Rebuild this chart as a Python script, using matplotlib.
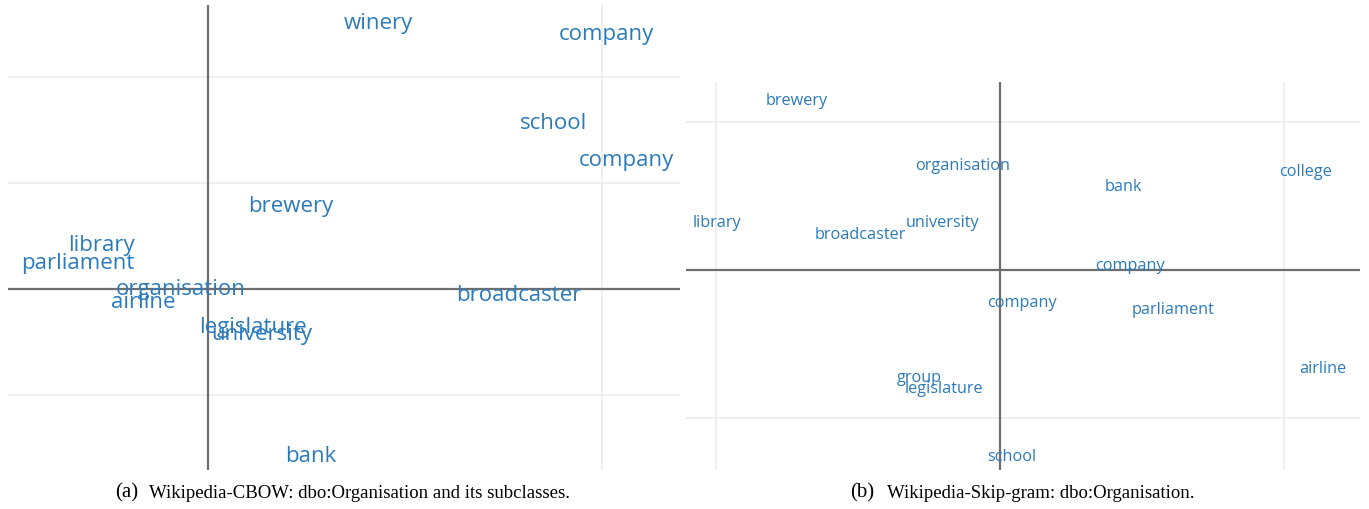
import matplotlib.pyplot as plt

# (a) Wikipedia-CBOW
cbow_words = ['winery', 'company', 'school', 'company', 'brewery', 'library',
              'parliament', 'organisation', 'airline', 'broadcaster',
              'legislature', 'university', 'bank']
cbow_x = [0.431, 1.010, 0.876, 1.061, 0.211, -0.272, -0.330, -0.069, -0.165,
          0.789, 0.114, 0.137, 0.261]
cbow_y = [2.51, 2.406, 1.566, 1.217, 0.783, 0.415, 0.245, -0.009, -0.132,
          -0.057, -0.368, -0.425, -1.585]

# (b) Wikipedia-Skip-gram
sg_words = ['brewery', 'organisation', 'bank', 'college', 'library',
            'broadcaster', 'university', 'company', 'company', 'parliament',
            'airline', 'group', 'legislature', 'school']
sg_x = [-0.715, -0.130, 0.433, 1.077, -0.996, -0.493, -0.201, 0.458, 0.077,
        0.609, 1.137, -0.285, -0.197, 0.042]
sg_y = [1.142, 0.703, 0.561, 0.662, 0.318, 0.236, 0.318, 0.027, -0.223,
        -0.270, -0.669, -0.730, -0.804, -1.264]

blue = '#2b7bba'
W, H = 1369, 509

fig = plt.figure(figsize=(W / 100, H / 100), dpi=100)


def panel(rect, words, xs, ys, xlim, ylim, xgrid, ygrid, fs):
    ax = fig.add_axes(rect)
    ax.set_xlim(*xlim)
    ax.set_ylim(*ylim)
    ax.axis('off')
    for g in ygrid:
        ax.axhline(g, color='#ececec', lw=1.2, zorder=0)
    for g in xgrid:
        ax.axvline(g, color='#ececec', lw=1.2, zorder=0)
    ax.axhline(0, color='#6e6e6e', lw=1.6, zorder=1)
    ax.axvline(0, color='#6e6e6e', lw=1.6, zorder=1)
    for w, x, y in zip(words, xs, ys):
        ax.text(x, y, w, color=blue, fontsize=fs, family='Open Sans',
                ha='center', va='center', zorder=2)
    return ax


panel([8 / W, 39 / H, 672 / W, 465 / H], cbow_words, cbow_x, cbow_y,
      (-0.508, 1.198), (-1.708, 2.68), [1], [2, 1, -1], 16)
panel([686 / W, 39 / H, 674 / W, 388 / H], sg_words, sg_x, sg_y,
      (-1.106, 1.268), (-1.351, 1.27), [-1, 1], [1, -1], 11.7)

cap = dict(family='Liberation Serif', va='center')
fig.text(115 / W, 1 - 493 / H, '(a)', fontsize=15, **cap)
fig.text(149 / W, 1 - 494 / H, 'Wikipedia-CBOW: dbo:Organisation and its subclasses.',
         fontsize=13.5, **cap)
fig.text(850 / W, 1 - 493 / H, '(b)', fontsize=15, **cap)
fig.text(887 / W, 1 - 494 / H, 'Wikipedia-Skip-gram: dbo:Organisation.',
         fontsize=13.5, **cap)

fig.savefig('out.png', dpi=100)
